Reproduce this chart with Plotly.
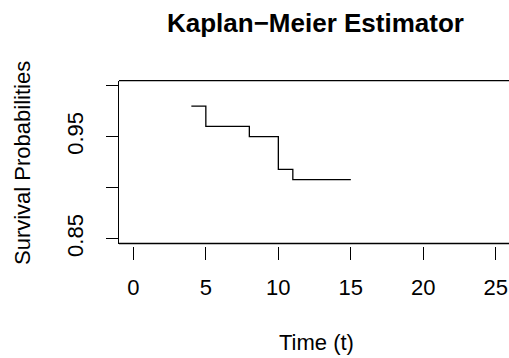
import plotly.graph_objects as go

# Data
times = [4, 5, 8, 10, 11, 15]
surv = [0.98, 0.96, 0.95, 0.918, 0.908, 0.908]
x_ticks = [0, 5, 10, 15, 20, 25]
y_ticks = [0.85, 0.90, 0.95, 1.00]
y_ticktext = ["0.85", "", "0.95", ""]

W, H = 509, 358
FONT = "Liberation Sans, Arial, Helvetica, sans-serif"
left_px, top_px, bot_px = 119, 80.7, 243.5

fig = go.Figure()
fig.add_trace(go.Scatter(x=times, y=surv, mode="lines", line=dict(color="black", width=1.3, shape="hv"),
                         hoverinfo="skip", showlegend=False))

shapes = [
    dict(type="line", xref="paper", yref="paper", x0=left_px / W, x1=1.01,
         y0=(H - top_px) / H, y1=(H - top_px) / H, line=dict(color="black", width=1.3)),
    dict(type="line", xref="paper", yref="paper", x0=left_px / W, x1=1.01,
         y0=(H - bot_px) / H, y1=(H - bot_px) / H, line=dict(color="black", width=1.3)),
]

fig.update_layout(
    width=W, height=H, autosize=False,
    margin=dict(l=0, r=0, t=0, b=0),
    paper_bgcolor="white", plot_bgcolor="white",
    font=dict(family=FONT, size=22, color="black"),
    showlegend=False,
    xaxis=dict(domain=[left_px / W, 1], range=[-0.99, 25.91], anchor="free", automargin=False,
               position=(H - 245.5) / H, showline=False, showgrid=False, zeroline=False,
               ticks="outside", ticklen=13.5, tickwidth=1.3, tickcolor="black",
               tickvals=x_ticks, ticktext=[str(v) for v in x_ticks], ticklabelstandoff=9,
               tickfont=dict(size=22)),
    yaxis=dict(domain=[(H - bot_px) / H, (H - top_px) / H], range=[0.8454, 1.0048], automargin=False,
               showline=True, linewidth=1.3, linecolor="black", showgrid=False, zeroline=False,
               ticks="outside", ticklen=12, tickwidth=1.3, tickcolor="black",
               tickvals=y_ticks, ticktext=y_ticktext, tickangle=-90, ticklabelstandoff=14,
               tickfont=dict(size=22)),
    shapes=shapes,
    annotations=[
        dict(text="<b>Kaplan\u2212Meier Estimator</b>", x=315 / W, y=1 - 23 / H, xref="paper", yref="paper",
             showarrow=False, xanchor="center", yanchor="middle", font=dict(size=26, family=FONT)),
        dict(text="Time (t)", x=316 / W, y=1 - 342 / H, xref="paper", yref="paper",
             showarrow=False, xanchor="center", yanchor="middle", font=dict(size=22, family=FONT)),
        dict(text="Survival Probabilities", x=22 / W, y=1 - 163 / H, xref="paper", yref="paper",
             showarrow=False, xanchor="center", yanchor="middle", textangle=-90,
             font=dict(size=22, family=FONT)),
    ],
)

fig.write_html("out.html")
